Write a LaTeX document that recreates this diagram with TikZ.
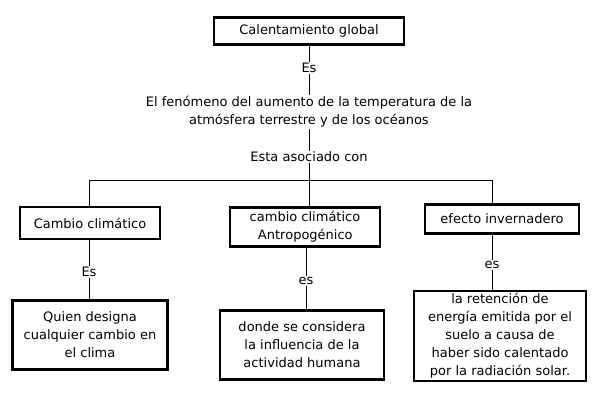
\documentclass[tikz,border=0pt]{standalone}
\usepackage{fontspec}
\setmainfont{DejaVu Sans}
\begin{document}
\begin{tikzpicture}[x=1pt, y=-1pt, font=\fontsize{13}{18}\selectfont,
  caja/.style={draw, line width=2.2pt, inner sep=2pt},
  enlace/.style={draw=none, fill=white, inner sep=1pt}]
\useasboundingbox (0,0) rectangle (610,407);

\node[caja, minimum width=190pt, minimum height=27pt] (cg) at (309,31) {Calentamiento global};
\node[enlace] (es1) at (309,68) {Es};
\node[align=center, inner sep=1pt] (def) at (309,112) {El fenómeno del aumento de la temperatura de la\\atmósfera terrestre y de los océanos};
\node[enlace] (aso) at (309,157) {Esta asociado con};
\coordinate (rama) at (309,180);
\coordinate (izq) at (89,180);
\coordinate (der) at (492,180);

\node[caja, minimum width=140pt, minimum height=32pt] (cc) at (90,223) {Cambio climático};
\node[caja, minimum width=150pt, minimum height=39pt, align=left] (ca) at (305,227) {cambio climático\\\ \ Antropogénico};
\node[caja, minimum width=154pt, minimum height=29pt] (ei) at (502,219) {efecto invernadero};

\node[enlace] (es2) at (89,272) {Es};
\node[enlace] (es3) at (306,281) {es};
\node[enlace] (es4) at (492,265) {es};

\node[caja, minimum width=155pt, minimum height=69pt, align=center] (qd) at (90,335) {Quien designa\\cualquier cambio en\\el clima};
\node[caja, minimum width=164pt, minimum height=69pt, align=center] (dc) at (302,345) {donde se considera\\la influencia de la\\actividad humana};
\node[caja, minimum width=172pt, minimum height=90pt, align=center] (rt) at (500,336) {la retención de\\energía emitida por el\\suelo a causa de\\haber sido calentado\\por la radiación solar.};

\draw (cg) -- (es1);
\draw (es1) -- (def);
\draw (def) -- (aso);
\draw (aso) -- (rama);
\draw (izq) -- (der);
\draw (izq) -- (izq |- cc.north);
\draw (rama) -- (rama |- ca.north);
\draw (der) -- (der |- ei.north);
\draw (es2 |- cc.south) -- (es2);
\draw (es2) -- (es2 |- qd.north);
\draw (es3 |- ca.south) -- (es3);
\draw (es3) -- (es3 |- dc.north);
\draw (es4 |- ei.south) -- (es4);
\draw (es4) -- (es4 |- rt.north);
\end{tikzpicture}
\end{document}
